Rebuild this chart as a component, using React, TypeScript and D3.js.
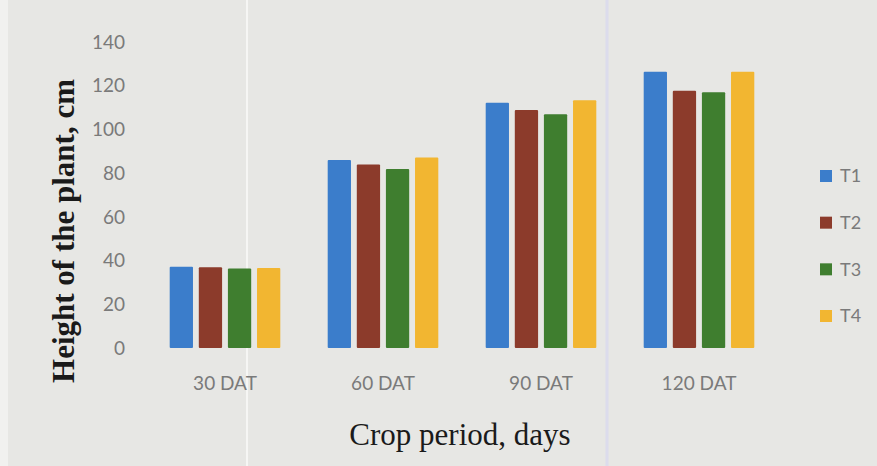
import React from "react";
import * as d3 from "d3";

const categories = ["30 DAT", "60 DAT", "90 DAT", "120 DAT"];
const seriesNames = ["T1", "T2", "T3", "T4"];
const T1 = [37.2, 86.0, 112.2, 126.4];
const T2 = [36.9, 84.0, 108.9, 117.7];
const T3 = [36.4, 81.9, 106.9, 117.0];
const T4 = [36.6, 87.2, 113.4, 126.4];
const yTicks = [0, 20, 40, 60, 80, 100, 120, 140];
const colors = ["#3b7dcb", "#8c3b2b", "#3f7e2f", "#f2b631"];

const W = 877;
const H = 466;

export default function App() {
  const series = [T1, T2, T3, T4];
  const x0 = d3.scaleBand<string>().domain(categories).range([146, 778]).paddingInner(0.3).paddingOuter(0.15);
  const x1 = d3.scaleBand<string>().domain(seriesNames).range([0, x0.bandwidth()]).paddingInner(0.2);
  const y = d3.scaleLinear().domain([0, 140]).range([348, 42]);
  const legendY = d3.scalePoint<string>().domain(seriesNames).range([176, 316]);
  const tickFont = "Lato, 'Open Sans', sans-serif";

  return (
    <svg width={W} height={H} style={{ position: "absolute", left: 0, top: 0 }}>
      <rect x={0} y={0} width={W} height={H} fill="#e7e7e4" />
      <rect x={0} y={0} width={8} height={H} fill="#f1f1ef" />
      <line x1={247} x2={247} y1={0} y2={H} stroke="#f6f6f4" strokeWidth={2} />
      <line x1={607} x2={607} y1={0} y2={H} stroke="#dcdcec" strokeWidth={3} />
      {yTicks.map((t) => (
        <text key={t} x={125} y={y(t)} dy="0.35em" textAnchor="end" fontFamily={tickFont} fontSize={19} fill="#7a7a7a">
          {t}
        </text>
      ))}
      {categories.map((c, ci) => (
        <g key={c} transform={`translate(${x0(c)},0)`}>
          {seriesNames.map((s, si) => (
            <rect key={s} x={x1(s)} y={y(series[si][ci])} width={x1.bandwidth()} height={y(0) - y(series[si][ci])} fill={colors[si]} rx={1} />
          ))}
          <text x={x0.bandwidth() / 2} y={383} dy="0.35em" textAnchor="middle" fontFamily={tickFont} fontSize={19} fill="#7a7a7a">
            {c}
          </text>
        </g>
      ))}
      <text x={460} y={445} textAnchor="middle" fontFamily="'Liberation Serif', 'Times New Roman', serif" fontSize={31} fill="#1a1a1a">
        Crop period, days
      </text>
      <text transform={`translate(63,231) rotate(-90)`} dy="0.35em" textAnchor="middle" fontFamily="'Liberation Serif', 'Times New Roman', serif" fontWeight="bold" fontSize={31} fill="#1a1a1a">
        Height of the plant, cm
      </text>
      {seriesNames.map((s, si) => (
        <g key={s} transform={`translate(820,${legendY(s)})`}>
          <rect x={0} y={-6} width={12} height={12} fill={colors[si]} />
          <text x={20} y={0} dy="0.35em" fontFamily={tickFont} fontSize={18} fill="#7a7a7a">
            {s}
          </text>
        </g>
      ))}
    </svg>
  );
}
